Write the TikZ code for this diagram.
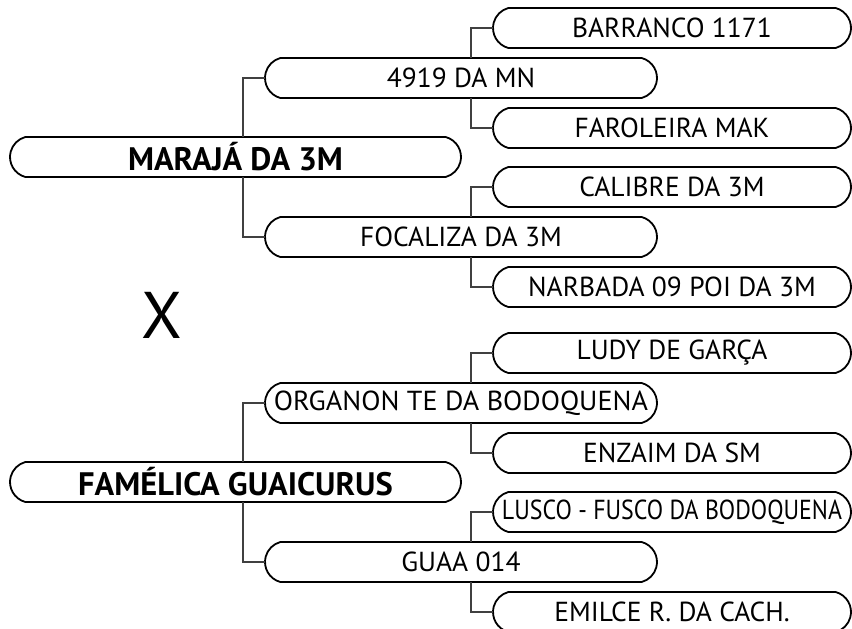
\documentclass[tikz,border=0pt]{standalone}
\usepackage{fontspec}
\usepackage{graphicx}
\setmainfont{PT Sans}
\usetikzlibrary{shapes.misc}
\tikzset{
  pedbox/.style={draw,rounded rectangle,rounded rectangle arc length=150,
    line width=1.8pt,minimum height=40pt,inner xsep=0pt,inner ysep=0pt,
    outer sep=0pt,font=\fontsize{27.5}{29}\selectfont},
  lvla/.style={pedbox,minimum width=451pt,font=\fontsize{32.5}{34}\selectfont\bfseries},
  lvlb/.style={pedbox,minimum width=392pt},
  lvlc/.style={pedbox,minimum width=358pt},
  link/.style={draw=black!75,line width=1.3pt}
}
\begin{document}
\begin{tikzpicture}[x=1pt,y=-1pt]
  \useasboundingbox (0,0) rectangle (852,629);
  % parents
  \draw (235.5,157) node[lvla] (sire) {MARAJÁ DA 3M};
  \draw (235.5,482) node[lvla] (dam) {FAMÉLICA GUAICURUS};
  \draw (162,315) node[font=\fontsize{66}{68}\selectfont] (cross) {X};
  % grandparents
  \draw (461,78) node[lvlb] (ss) {4919 DA MN};
  \draw (461,237) node[lvlb] (sd) {FOCALIZA DA 3M};
  \draw (461,403) node[lvlb] (ds) {\resizebox{374pt}{\height}{ORGANON TE DA BODOQUENA}};
  \draw (461,562) node[lvlb] (dd) {GUAA 014};
  % great-grandparents
  \draw (672,28) node[lvlc] (sss) {BARRANCO 1171};
  \draw (672,128) node[lvlc] (ssd) {FAROLEIRA MAK};
  \draw (672,187) node[lvlc] (sds) {CALIBRE DA 3M};
  \draw (672,287) node[lvlc] (sdd) {NARBADA 09 POI DA 3M};
  \draw (672,353) node[lvlc] (dss) {LUDY DE GARÇA};
  \draw (672,453) node[lvlc] (dsd) {ENZAIM DA SM};
  \draw (672,512) node[lvlc] (dds) {\resizebox{340pt}{\height}{LUSCO - FUSCO DA BODOQUENA}};
  \draw (672,612) node[lvlc] (ddd) {EMILCE R. DA CACH.};
  %
  % links parent -> grandparents
  \draw[link] (ss.west) -- ++(-22,0) coordinate (j1) -- (j1 |- sire.north);
  \draw[link] (sd.west) -- ++(-22,0) coordinate (j2) -- (j2 |- sire.south);
  \draw[link] (ds.west) -- ++(-22,0) coordinate (j3) -- (j3 |- dam.north);
  \draw[link] (dd.west) -- ++(-22,0) coordinate (j4) -- (j4 |- dam.south);
  % links grandparents -> great-grandparents
  \draw[link] (sss.west) -- ++(-22,0) coordinate (k1) -- (k1 |- ss.north);
  \draw[link] (ssd.west) -- ++(-22,0) coordinate (k2) -- (k2 |- ss.south);
  \draw[link] (sds.west) -- ++(-22,0) coordinate (k3) -- (k3 |- sd.north);
  \draw[link] (sdd.west) -- ++(-22,0) coordinate (k4) -- (k4 |- sd.south);
  \draw[link] (dss.west) -- ++(-22,0) coordinate (k5) -- (k5 |- ds.north);
  \draw[link] (dsd.west) -- ++(-22,0) coordinate (k6) -- (k6 |- ds.south);
  \draw[link] (dds.west) -- ++(-22,0) coordinate (k7) -- (k7 |- dd.north);
  \draw[link] (ddd.west) -- ++(-22,0) coordinate (k8) -- (k8 |- dd.south);
\end{tikzpicture}
\end{document}
